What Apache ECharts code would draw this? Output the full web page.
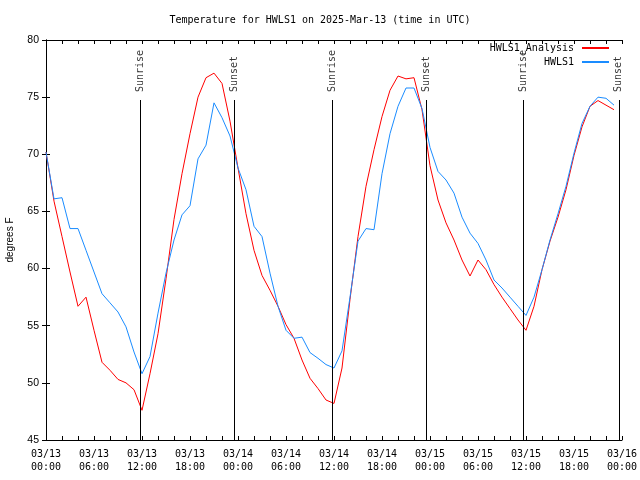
<!DOCTYPE html>
<html>
<head>
<meta charset="utf-8">
<script src="https://cdn.jsdelivr.net/npm/echarts@6/dist/echarts.min.js"></script>
<style>html,body{margin:0;padding:0;background:#fff}#c{width:640px;height:480px}</style>
</head>
<body>
<div id="c"></div>
<script>
// Hours since 2025-03-13 00:00 UTC
var hours = [];
for (var i = 0; i < 72; i++) hours.push(i);

var analysisTemps = [
  70.2, 65.9, 62.8, 59.7, 56.7, 57.5, 54.6, 51.8, 51.1, 50.3, 50.0, 49.4,
  47.6, 50.8, 54.3, 59.1, 64.3, 68.3, 71.8, 75.0, 76.7, 77.1, 76.2, 72.9,
  68.8, 64.8, 61.6, 59.4, 58.1, 56.7, 55.1, 53.9, 52.0, 50.4, 49.5, 48.5,
  48.2, 51.3, 57.3, 62.8, 67.2, 70.4, 73.3, 75.6, 76.85, 76.6, 76.7, 73.9,
  69.0, 66.0, 64.0, 62.5, 60.75, 59.35, 60.75, 59.9, 58.6, 57.5, 56.5, 55.5,
  54.6, 56.7, 59.9, 62.4, 64.5, 66.9, 69.9, 72.4, 74.2, 74.7, 74.3, 73.9
];

var observedTemps = [
  70.2, 66.1, 66.2, 63.5, 63.5, 61.6, 59.7, 57.8, 57.0, 56.2, 54.9, 52.7,
  50.8, 52.3, 56.1, 59.6, 62.5, 64.7, 65.5, 69.6, 70.8, 74.5, 73.2, 71.6,
  68.8, 66.9, 63.7, 62.8, 59.6, 56.7, 54.6, 53.9, 54.0, 52.65, 52.15, 51.6,
  51.3, 52.8, 57.5, 62.4, 63.5, 63.4, 68.3, 71.8, 74.2, 75.8, 75.8, 74.0,
  70.6, 68.5, 67.75, 66.6, 64.5, 63.1, 62.2, 60.75, 59.0, 58.3, 57.5, 56.7,
  55.9, 57.5, 59.9, 62.5, 64.8, 67.2, 70.1, 72.7, 74.2, 75.0, 74.9, 74.3
];

var sunEventHours = [11.8, 23.55, 35.75, 47.55, 59.65, 71.6];
var sunEventNames = ['Sunrise', 'Sunset', 'Sunrise', 'Sunset', 'Sunrise', 'Sunset'];

var xTickLabels = [
  '03/13\n00:00', '03/13\n06:00', '03/13\n12:00', '03/13\n18:00',
  '03/14\n00:00', '03/14\n06:00', '03/14\n12:00', '03/14\n18:00',
  '03/15\n00:00', '03/15\n06:00', '03/15\n12:00', '03/15\n18:00',
  '03/16\n00:00'
];
var yTicks = [45, 50, 55, 60, 65, 70, 75, 80];

var seriesNames = ['HWLS1_Analysis', 'HWLS1'];

var mono = 'DejaVu Sans Mono';
var sans = 'Liberation Sans';

function pairs(xs, ys) {
  var out = [];
  for (var i = 0; i < xs.length; i++) out.push([xs[i], ys[i]]);
  return out;
}

var sunLines = sunEventHours.map(function (h) {
  return [{ coord: [h, 45] }, { coord: [h, 74.75] }];
});
var sunLabels = sunEventHours.map(function (h, i) {
  return { value: [h, 75.45], name: sunEventNames[i] };
});

var chart = echarts.init(document.getElementById('c'), null, { renderer: 'canvas' });
chart.setOption({
  animation: false,
  backgroundColor: '#ffffff',
  title: {
    text: 'Temperature for HWLS1 on 2025-Mar-13 (time in UTC)',
    left: 'center',
    top: 10,
    textStyle: { fontFamily: mono, fontSize: 10, fontWeight: 'normal', color: '#000' }
  },
  legend: {
    data: seriesNames,
    orient: 'vertical',
    right: 25,
    top: 38,
    align: 'right',
    itemWidth: 27,
    itemHeight: 10,
    itemGap: 4,
    itemStyle: { opacity: 0 },
    textStyle: { fontFamily: mono, fontSize: 10, color: '#000', padding: [0, 3, 0, 0] }
  },
  grid: { left: 46, right: 18, top: 40, bottom: 40, show: false, containLabel: false, outerBoundsMode: 'none' },
  xAxis: [{
    type: 'value',
    min: 0, max: 72, interval: 6,
    axisLine: { show: true, lineStyle: { color: '#000', width: 1 } },
    axisTick: { show: true, inside: true, length: 4, lineStyle: { color: '#000' } },
    minorTick: { show: true, splitNumber: 3, length: 4, lineStyle: { color: '#000' } },
    splitLine: { show: false },
    axisLabel: {
      margin: 8,
      fontFamily: mono, fontSize: 10, color: '#000', lineHeight: 13,
      formatter: function (v) { return xTickLabels[Math.round(v / 6)] || ''; }
    }
  }, {
    type: 'value', position: 'top',
    min: 0, max: 72, interval: 6,
    axisLine: { show: true, lineStyle: { color: '#000', width: 1 } },
    axisTick: { show: true, inside: true, length: 4, lineStyle: { color: '#000' } },
    minorTick: { show: true, splitNumber: 3, length: 4, lineStyle: { color: '#000' } },
    splitLine: { show: false },
    axisLabel: { show: false }
  }],
  yAxis: [{
    type: 'value',
    min: 45, max: 80, interval: 5,
    name: 'degrees F',
    nameLocation: 'middle',
    nameGap: 31,
    nameTextStyle: { fontFamily: sans, fontSize: 10, color: '#000' },
    axisLine: { show: true, lineStyle: { color: '#000', width: 1 } },
    axisTick: { show: true, inside: true, length: 4, lineStyle: { color: '#000' } },
    splitLine: { show: false },
    axisLabel: { margin: 7, fontFamily: sans, fontSize: 10.5, color: '#000' }
  }, {
    type: 'value', position: 'right',
    min: 45, max: 80, interval: 5,
    axisLine: { show: true, lineStyle: { color: '#000', width: 1 } },
    axisTick: { show: true, inside: true, length: 4, lineStyle: { color: '#000' } },
    splitLine: { show: false },
    axisLabel: { show: false }
  }],
  series: [{
    name: seriesNames[0],
    type: 'line',
    data: pairs(hours, analysisTemps),
    symbol: 'none',
    lineStyle: { color: '#ff0000', width: 1 },
    itemStyle: { color: '#ff0000' },
    z: 3
  }, {
    name: seriesNames[1],
    type: 'line',
    data: pairs(hours, observedTemps),
    symbol: 'none',
    lineStyle: { color: '#1a8cff', width: 1 },
    itemStyle: { color: '#1a8cff' },
    z: 4
  }, {
    name: 'sun',
    type: 'scatter',
    data: sunLabels,
    symbolSize: 0,
    silent: true,
    label: {
      show: true,
      position: 'inside',
      formatter: function (p) { return p.name; },
      rotate: 90,
      align: 'left',
      verticalAlign: 'middle',
      fontFamily: mono, fontSize: 10, color: '#000'
    },
    markLine: {
      silent: true,
      symbol: 'none',
      label: { show: false },
      lineStyle: { color: '#000', width: 1, type: 'solid' },
      data: sunLines
    },
    z: 2
  }]
});
</script>
</body>
</html>
